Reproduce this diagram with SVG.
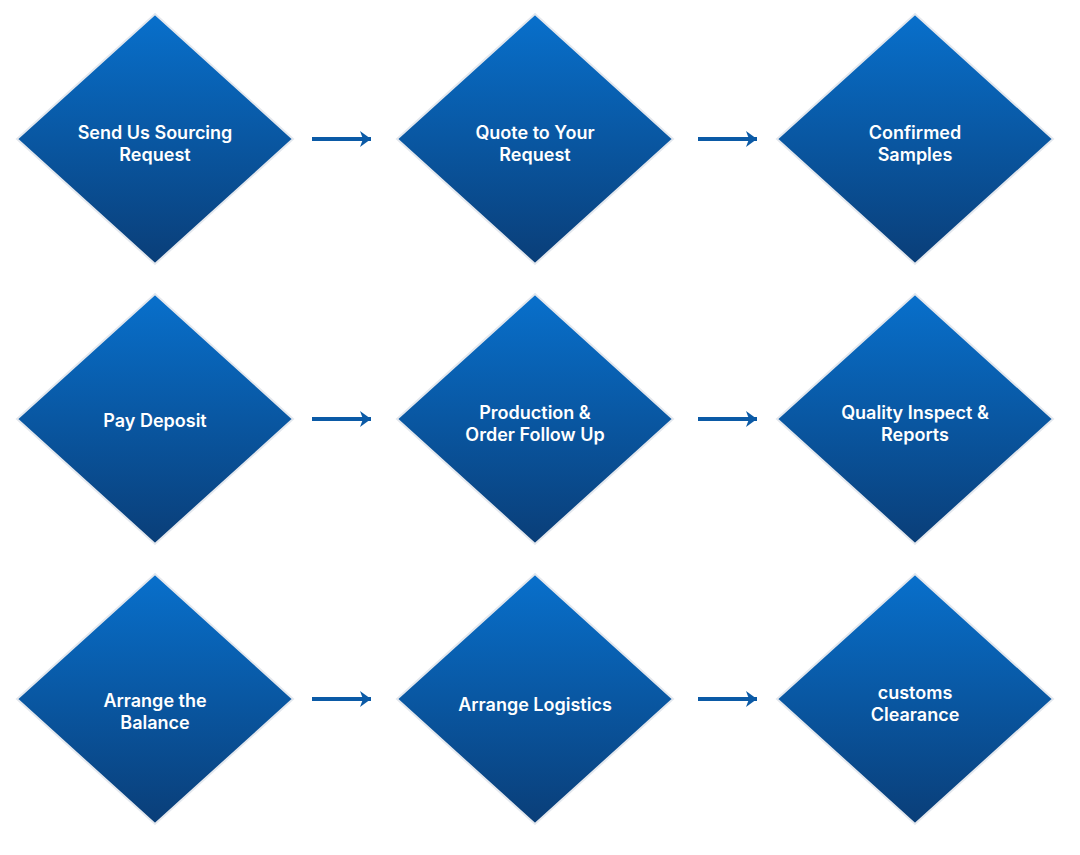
<svg xmlns="http://www.w3.org/2000/svg" width="1080" height="855" viewBox="0 0 1080 855">
<defs>
<linearGradient id="g" x1="0" y1="0" x2="0" y2="1">
<stop offset="0" stop-color="#0870cc"/>
<stop offset="1" stop-color="#0a3e78"/>
</linearGradient>
<marker id="ah" viewBox="0 0 12 18" refX="11" refY="9" markerWidth="12" markerHeight="18" markerUnits="userSpaceOnUse" orient="auto">
<path d="M0,1 L11,9 L0,17 L3,9 Z" fill="#0b5aa6"/>
</marker>
<polygon id="d" points="0,-125 138,0 0,125 -138,0"/>
</defs>
<style>
.dm{fill:url(#g);stroke:#e4e8ee;stroke-width:2}
.t{font-family:Inter,"Open Sans","Liberation Sans",sans-serif;font-size:18px;font-weight:600;fill:#fff;text-anchor:middle}
.c{stroke:#0b5aa6;stroke-width:4;fill:none;marker-end:url(#ah)}
</style>
<rect width="1080" height="855" fill="#fff"/>
<g id="connectors">
<line class="c" x1="312" y1="139" x2="371" y2="139"/>
<line class="c" x1="698" y1="139" x2="757" y2="139"/>
<line class="c" x1="312" y1="419" x2="371" y2="419"/>
<line class="c" x1="698" y1="419" x2="757" y2="419"/>
<line class="c" x1="312" y1="699" x2="371" y2="699"/>
<line class="c" x1="698" y1="699" x2="757" y2="699"/>
</g>
<g id="n1" transform="translate(155,139)"><use href="#d" class="dm"/><text class="t" y="0">Send Us Sourcing</text><text class="t" y="22">Request</text></g>
<g id="n2" transform="translate(535,139)"><use href="#d" class="dm"/><text class="t" y="0">Quote to Your</text><text class="t" y="22">Request</text></g>
<g id="n3" transform="translate(915,139)"><use href="#d" class="dm"/><text class="t" y="0">Confirmed</text><text class="t" y="22">Samples</text></g>
<g id="n4" transform="translate(155,419)"><use href="#d" class="dm"/><text class="t" y="8">Pay Deposit</text></g>
<g id="n5" transform="translate(535,419)"><use href="#d" class="dm"/><text class="t" y="0">Production &amp;</text><text class="t" y="22">Order Follow Up</text></g>
<g id="n6" transform="translate(915,419)"><use href="#d" class="dm"/><text class="t" y="0">Quality Inspect &amp;</text><text class="t" y="22">Reports</text></g>
<g id="n7" transform="translate(155,699)"><use href="#d" class="dm"/><text class="t" y="8">Arrange the</text><text class="t" y="30">Balance</text></g>
<g id="n8" transform="translate(535,699)"><use href="#d" class="dm"/><text class="t" y="12">Arrange Logistics</text></g>
<g id="n9" transform="translate(915,699)"><use href="#d" class="dm"/><text class="t" y="0">customs</text><text class="t" y="22">Clearance</text></g>
</svg>
